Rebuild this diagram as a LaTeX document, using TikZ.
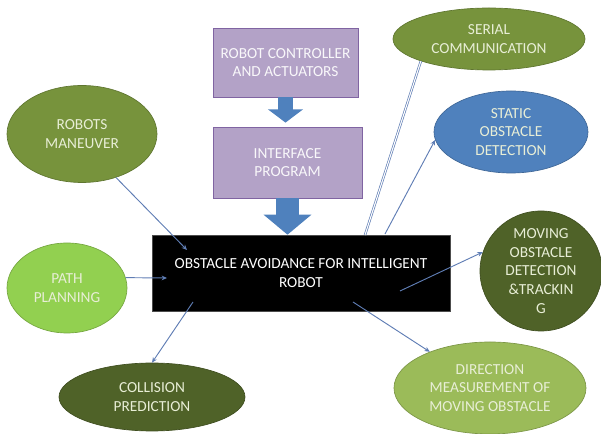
\documentclass[tikz,border=0pt]{standalone}
\usepackage{fontspec}
\setmainfont{Carlito}
\usetikzlibrary{shapes.geometric,arrows.meta}

\definecolor{olivegreen}{RGB}{119,147,60}
\definecolor{leafgreen}{RGB}{146,208,80}
\definecolor{darkolive}{RGB}{79,98,40}
\definecolor{paleolive}{RGB}{155,187,89}
\definecolor{skyblue}{RGB}{79,129,189}
\definecolor{lavender}{RGB}{179,162,199}
\definecolor{lavenderedge}{RGB}{128,100,162}
\definecolor{paletext}{RGB}{232,238,214}
\definecolor{linkblue}{RGB}{95,125,180}

\tikzset{
  oval/.style={ellipse, inner sep=-4pt, draw=#1!80!black, line width=0.5pt, fill=#1,
    text=paletext, align=center, font=\fontsize{11.5}{14}\selectfont},
  lilacbox/.style={rectangle, draw=lavenderedge, line width=0.6pt, fill=lavender,
    text=white!92!lavender, align=center, font=\fontsize{11.5}{14}\selectfont},
  link/.style={draw=linkblue, line width=0.7pt, -{Stealth[length=4pt,width=3.5pt]}},
  blockarrow/.style={draw=skyblue, -{Triangle[length=#1]}},
}

\begin{document}
\begin{tikzpicture}[x=0.75pt,y=0.75pt,yscale=-1,xscale=1]
\useasboundingbox (0,0) rectangle (601,434);

% Boxes
\node[lilacbox, minimum width=108.75pt, minimum height=51.75pt] (ctrl) at (285.5,62.5) {ROBOT CONTROLLER\\AND ACTUATORS};
\node[lilacbox, minimum width=111.75pt, minimum height=53.25pt] (iface) at (287.5,162.5) {INTERFACE\\PROGRAM};
\node[rectangle, draw=black!70, fill=black, text=white, align=center, font=\fontsize{11.5}{14}\selectfont,
  minimum width=223.5pt, minimum height=57pt] (core) at (301,273) {OBSTACLE AVOIDANCE FOR INTELLIGENT\\ROBOT};

% Ellipses
\node[oval=olivegreen, minimum width=112.5pt, minimum height=72.75pt] (rm) at (82,134) {ROBOTS\\MANEUVER};
\node[oval=leafgreen, minimum width=90pt, minimum height=67.5pt] (pp) at (67,288) {PATH\\PLANNING};
\node[oval=darkolive, minimum width=139.5pt, minimum height=51pt] (cp) at (152,397) {COLLISION\\PREDICTION};
\node[oval=olivegreen, minimum width=144pt, minimum height=46.5pt] (sc) at (489,39) {SERIAL\\COMMUNICATION};
\node[oval=skyblue, minimum width=115.5pt, minimum height=61.5pt] (sod) at (511,132) {STATIC\\OBSTACLE\\DETECTION};
\node[oval=darkolive, minimum width=91.5pt, minimum height=90pt, inner sep=-14pt] (mod) at (541,271) {MOVING\\OBSTACLE\\DETECTION\\\&TRACKIN\\G};
\node[oval=paleolive, minimum width=144pt, minimum height=69pt] (dm) at (490,388) {DIRECTION\\MEASUREMENT OF\\MOVING OBSTACLE};

% Free ends inside the core box
\coordinate (rmin) at (187,250);
\coordinate (ppin) at (167,278);
\coordinate (cpout) at (193,302);
\coordinate (scout) at (365,235);
\coordinate (sodout) at (385,234);
\coordinate (modout) at (400,291);
\coordinate (dmout) at (353,302);

% Block arrows
\draw[blockarrow=10pt, line width=11pt, -{Triangle[length=10pt,width=26pt]}, shorten >=3pt] (ctrl.south) -- (ctrl.south |- iface.north);
\draw[blockarrow=15pt, line width=17pt, -{Triangle[length=15pt,width=35pt]}] (iface.south) -- (iface.south |- core.north);

% Connectors
\draw[link] (rm.308) -- (rmin);
\draw[link] (pp.10) -- (ppin);
\draw[link] (cpout) -- (cp.north);
\draw[draw=linkblue, line width=0.5pt, double=white, double distance=0.8pt] (scout) -- (sc.198);
\draw[link] (sodout) -- (sod.186);
\draw[link] (modout) -- (mod.162);
\draw[link] (dmout) -- (dm.149);

\end{tikzpicture}
\end{document}
